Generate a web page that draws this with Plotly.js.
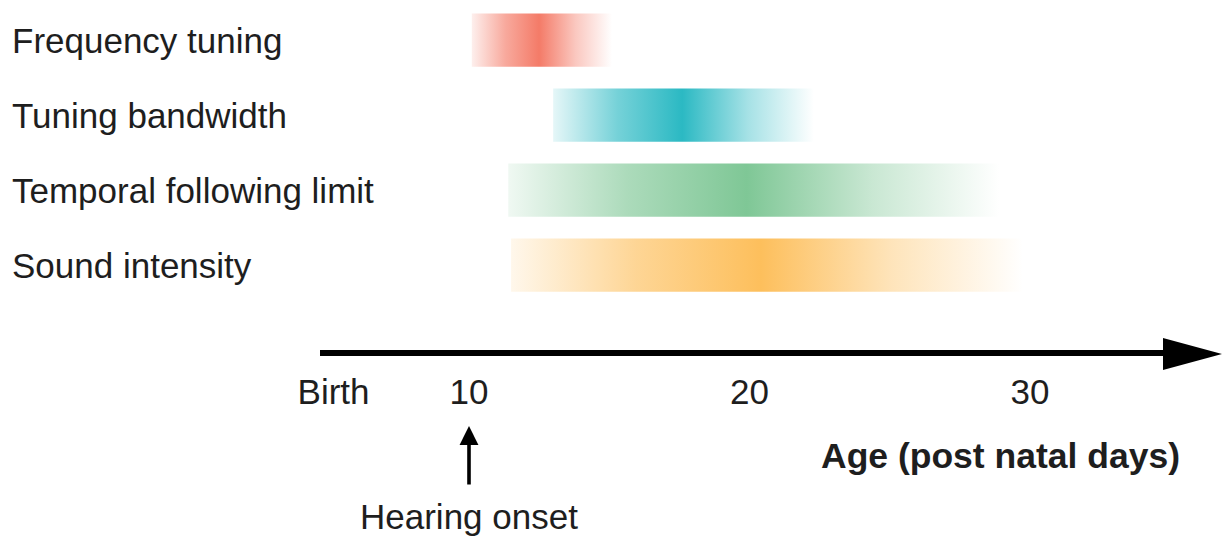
<!DOCTYPE html>
<html>
<head>
<meta charset="utf-8">
<script src="https://cdn.plot.ly/plotly-3.0.1.min.js"></script>
<style>html,body{margin:0;padding:0;background:#fff;}#chart{width:1224px;height:539px;}</style>
</head>
<body>
<div id="chart"></div>
<script>
// ---- data ----
var categories = ['Frequency tuning', 'Tuning bandwidth', 'Temporal following limit', 'Sound intensity'];
var startDay = [10.1, 13.0, 11.4, 11.5];
var endDay = [15.1, 22.3, 28.9, 29.75];
var peakDay = [12.5, 17.6, 19.9, 20.4];
var tickVals = [5.17, 10, 20, 30];
var tickText = ['Birth', '10', '20', '30'];
var onsetDay = 10;

// ---- styles ----
var barColors = [[244, 123, 104], [43, 185, 195], [127, 199, 150], [253, 191, 92]];
var FONT = 'Liberation Sans, Arial, sans-serif';
var TXT = '#1e1e1e';
var FS = 35;
var halfH = 0.355;

function rgba(c, a) { return 'rgba(' + c[0] + ',' + c[1] + ',' + c[2] + ',' + a + ')'; }

var traces = categories.map(function (cat, i) {
  var y0 = i - halfH, y1 = i + halfH;
  var s = startDay[i], e = endDay[i];
  var pf = (peakDay[i] - s) / (e - s);
  var c = barColors[i];
  return {
    type: 'scatter', mode: 'lines', name: cat,
    x: [s, e, e, s, s], y: [y0, y0, y1, y1, y0],
    fill: 'toself', line: {width: 0}, hoverinfo: 'skip', showlegend: false,
    fillgradient: {
      type: 'horizontal',
      colorscale: [
        [0, rgba(c, 0.12)],
        [pf * 0.5, rgba(c, 0.65)],
        [pf, rgba(c, 1)],
        [pf + (1 - pf) * 0.5, rgba(c, 0.42)],
        [1, rgba(c, 0.0)]
      ]
    }
  };
});

var pxPerDay = 28.05, px10 = 469;
function dayAt(px) { return 10 + (px - px10) / pxPerDay; }
var rowPx0 = 40, rowStep = 75;
function rowAt(py) { return (py - rowPx0) / rowStep; }

var rowLabels = categories.map(function (cat, i) {
  return {x: 10 / 1224, xref: 'paper', y: i, yref: 'y', text: cat, showarrow: false,
          xanchor: 'left', yanchor: 'middle', font: {family: FONT, size: FS, color: TXT}};
});

var layout = {
  width: 1224, height: 539,
  margin: {l: 0, r: 0, t: 0, b: 0},
  paper_bgcolor: '#fff', plot_bgcolor: '#fff',
  showlegend: false,
  xaxis: {
    range: [dayAt(0), dayAt(1224)], anchor: 'free', position: 1 - 368 / 539,
    showgrid: false, zeroline: false, showline: false, ticks: '',
    tickvals: tickVals, ticktext: tickText,
    tickfont: {family: FONT, size: FS, color: TXT}, fixedrange: true
  },
  yaxis: {
    range: [rowAt(539), rowAt(0)],
    showgrid: false, zeroline: false, showline: false, ticks: '', showticklabels: false,
    fixedrange: true
  },
  shapes: [
    {type: 'line', xref: 'x', yref: 'y', x0: dayAt(320), x1: dayAt(1170), y0: rowAt(353), y1: rowAt(353),
     line: {color: '#000', width: 6}},
    {type: 'path', xref: 'x', yref: 'y', xsizemode: 'pixel', ysizemode: 'pixel',
     xanchor: dayAt(1222), yanchor: rowAt(354), path: 'M0,0 L-59,-16 L-59,16 Z',
     fillcolor: '#000', line: {width: 0}}
  ],
  annotations: rowLabels.concat([
    {x: onsetDay, y: rowAt(426), xref: 'x', yref: 'y', text: '', showarrow: true,
     ax: 0, ay: 60, axref: 'pixel', ayref: 'pixel', arrowhead: 2, arrowsize: 1.05, arrowwidth: 3.6, arrowcolor: '#000'},
    {x: onsetDay, y: rowAt(516), xref: 'x', yref: 'y', text: 'Hearing onset', showarrow: false,
     xanchor: 'center', yanchor: 'middle', font: {family: FONT, size: FS, color: TXT}},
    {x: dayAt(1000), y: rowAt(456), xref: 'x', yref: 'y', text: '<b>Age (post natal days)</b>', showarrow: false,
     xanchor: 'center', yanchor: 'middle', font: {family: FONT, size: 35.5, color: TXT}}
  ])
};

Plotly.newPlot('chart', traces, layout, {displayModeBar: false, staticPlot: true});
</script>
</body>
</html>
